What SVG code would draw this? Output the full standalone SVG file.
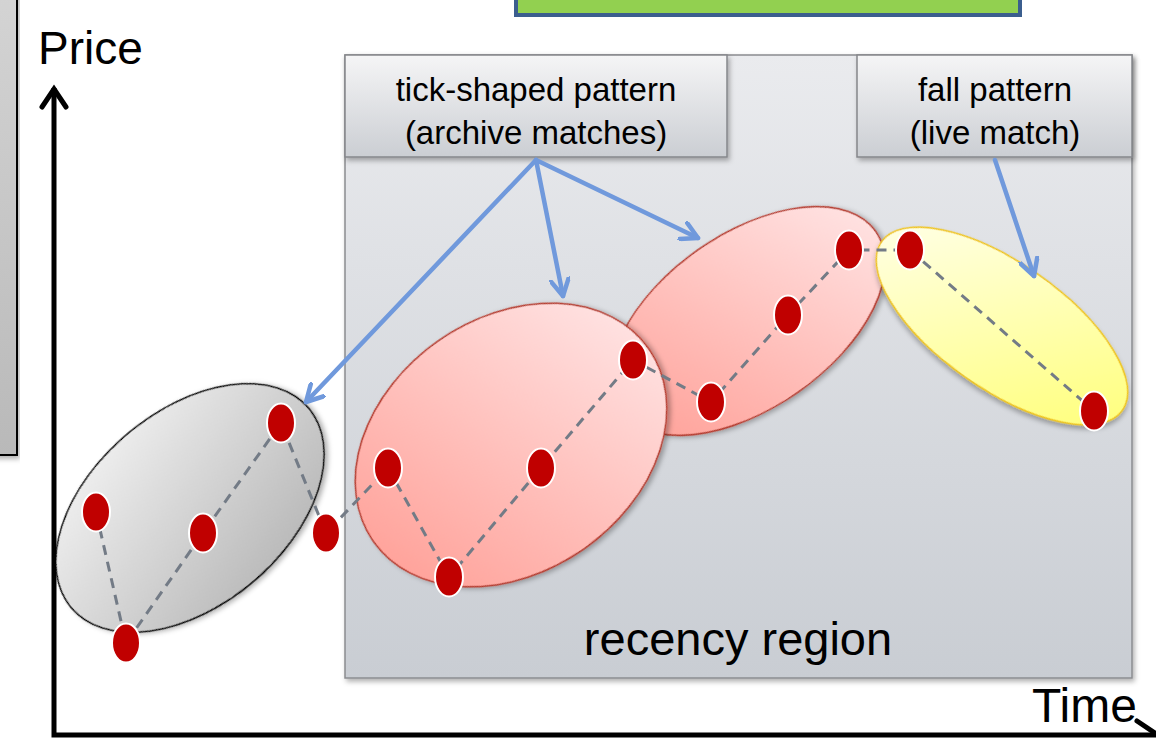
<svg xmlns="http://www.w3.org/2000/svg" width="1156" height="738" viewBox="0 0 1156 738">
<style>
.lbl{font-family:"Liberation Sans",Arial,sans-serif;fill:#000;text-anchor:middle}
.dot{fill:#c00000;stroke:#fff;stroke-width:2}
.arr{fill:none;stroke:#7099dc;stroke-width:4.5;stroke-linecap:round}
.axis{fill:none;stroke:#000;stroke-width:5;stroke-linejoin:miter}
</style>
<defs>
<linearGradient id="gLeft" x1="0" y1="0" x2="0" y2="1"><stop offset="0" stop-color="#d4d4d4"/><stop offset="1" stop-color="#b9b9b9"/></linearGradient>
<linearGradient id="gRegion" x1="0" y1="0" x2="0" y2="1"><stop offset="0" stop-color="#eaebee"/><stop offset="1" stop-color="#c9cdd3"/></linearGradient>
<linearGradient id="gLabel" x1="0" y1="0" x2="0" y2="1"><stop offset="0" stop-color="#f5f5f6"/><stop offset="1" stop-color="#cbced3"/></linearGradient>
<linearGradient id="gGray" x1="0.2" y1="0" x2="0.6" y2="1"><stop offset="0" stop-color="#f0f0f0"/><stop offset="1" stop-color="#bbbbbb"/></linearGradient>
<linearGradient id="gRed" x1="0" y1="0.6" x2="1" y2="0.3"><stop offset="0" stop-color="#ffa39b"/><stop offset="1" stop-color="#ffe3e3"/></linearGradient>
<linearGradient id="gYel" x1="0" y1="0.3" x2="1" y2="0.7"><stop offset="0" stop-color="#ffffe4"/><stop offset="1" stop-color="#ffff7c"/></linearGradient>
<filter id="sh" x="-10%" y="-10%" width="120%" height="125%"><feDropShadow dx="2" dy="3" stdDeviation="2.5" flood-color="#000" flood-opacity="0.3"/></filter>
<marker id="ah" viewBox="0 0 14 14" refX="12" refY="7" markerWidth="21" markerHeight="21" markerUnits="userSpaceOnUse" orient="auto"><path d="M1,1 L12,7 L1,13" fill="none" stroke="#7099dc" stroke-width="3" stroke-linecap="round" stroke-linejoin="round"/></marker>
</defs>
<rect width="1156" height="738" fill="#fff"/>

<g id="left-panel"><rect x="-10" y="-10" width="27" height="465" fill="url(#gLeft)" stroke="#000" stroke-width="2" filter="url(#sh)"/></g>
<g id="top-box"><rect x="516" y="-10" width="504" height="25" fill="#92d050" stroke="#3b5e8e" stroke-width="4"/></g>

<g id="recency-region">
<rect x="345" y="55" width="787" height="623" fill="url(#gRegion)" stroke="#8a8c90" stroke-width="1.5" filter="url(#sh)"/>
<text class="lbl" x="738" y="655" font-size="47">recency region</text>
</g>

<g id="label-tick">
<rect x="345" y="55" width="382" height="102" fill="url(#gLabel)" stroke="#85878b" stroke-width="1.5" filter="url(#sh)"/>
<text class="lbl" x="536" y="101" font-size="33">tick-shaped pattern</text>
<text class="lbl" x="536" y="144" font-size="33">(archive matches)</text>
</g>
<g id="label-fall">
<rect x="857" y="55" width="275" height="102" fill="url(#gLabel)" stroke="#85878b" stroke-width="1.5" filter="url(#sh)"/>
<text class="lbl" x="995" y="101" font-size="33">fall pattern</text>
<text class="lbl" x="995" y="144" font-size="33">(live match)</text>
</g>

<g id="axes">
<polyline class="axis" points="54,88 54,735 1158,735"/>
<polyline class="axis" points="42,107 54,89 66,107" stroke-linecap="round"/>
<polyline class="axis" points="1137,721 1158,735" stroke-linecap="round"/>
<text class="lbl" x="38" y="64" font-size="46" style="text-anchor:start">Price</text>
<text class="lbl" x="1032" y="722" font-size="48" style="text-anchor:start">Time</text>
</g>

<g id="ellipse-gray"><ellipse cx="0" cy="0" rx="155" ry="97" transform="translate(190,508) rotate(-40)" fill="url(#gGray)" stroke="#000" stroke-width="1.5" filter="url(#sh)"/></g>
<g id="ellipse-red-2"><ellipse cx="0" cy="0" rx="156" ry="87" transform="translate(748,321) rotate(-35)" fill="url(#gRed)" stroke="#b5382a" stroke-width="1.5" filter="url(#sh)"/></g>
<g id="ellipse-red-1"><ellipse cx="0" cy="0" rx="168" ry="127" transform="translate(511,445) rotate(-35)" fill="url(#gRed)" stroke="#b5382a" stroke-width="1.5" filter="url(#sh)"/></g>
<g id="ellipse-yellow"><ellipse cx="0" cy="0" rx="147" ry="63" transform="translate(1002,326) rotate(35)" fill="url(#gYel)" stroke="#f0c419" stroke-width="1.5" filter="url(#sh)"/></g>

<g id="connectors">
<path d="M96,512 L126,643 L203,533 L281,423 L326,533 L388,468 L449,577 L541,468 L633,360 L711,402 L788,315 L849,250 L910,250 L1094,411" fill="none" stroke="#737b86" stroke-width="3" stroke-dasharray="10 7"/>
<line class="arr" x1="536" y1="160" x2="306" y2="402" marker-end="url(#ah)"/>
<line class="arr" x1="536" y1="160" x2="563" y2="296" marker-end="url(#ah)"/>
<line class="arr" x1="536" y1="160" x2="698" y2="238" marker-end="url(#ah)"/>
<line class="arr" x1="995" y1="160" x2="1034" y2="276" marker-end="url(#ah)"/>
</g>

<g id="points">
<ellipse class="dot" cx="96" cy="512" rx="14" ry="19.5"/>
<ellipse class="dot" cx="126" cy="643" rx="14" ry="19.5"/>
<ellipse class="dot" cx="203" cy="533" rx="14" ry="19.5"/>
<ellipse class="dot" cx="281" cy="423" rx="14" ry="19.5"/>
<ellipse class="dot" cx="326" cy="533" rx="14" ry="19.5"/>
<ellipse class="dot" cx="388" cy="468" rx="14" ry="19.5"/>
<ellipse class="dot" cx="449" cy="577" rx="14" ry="19.5"/>
<ellipse class="dot" cx="541" cy="468" rx="14" ry="19.5"/>
<ellipse class="dot" cx="633" cy="360" rx="14" ry="19.5"/>
<ellipse class="dot" cx="711" cy="402" rx="14" ry="19.5"/>
<ellipse class="dot" cx="788" cy="315" rx="14" ry="19.5"/>
<ellipse class="dot" cx="849" cy="250" rx="14" ry="19.5"/>
<ellipse class="dot" cx="910" cy="250" rx="14" ry="19.5"/>
<ellipse class="dot" cx="1094" cy="411" rx="14" ry="19.5"/>
</g>
</svg>
